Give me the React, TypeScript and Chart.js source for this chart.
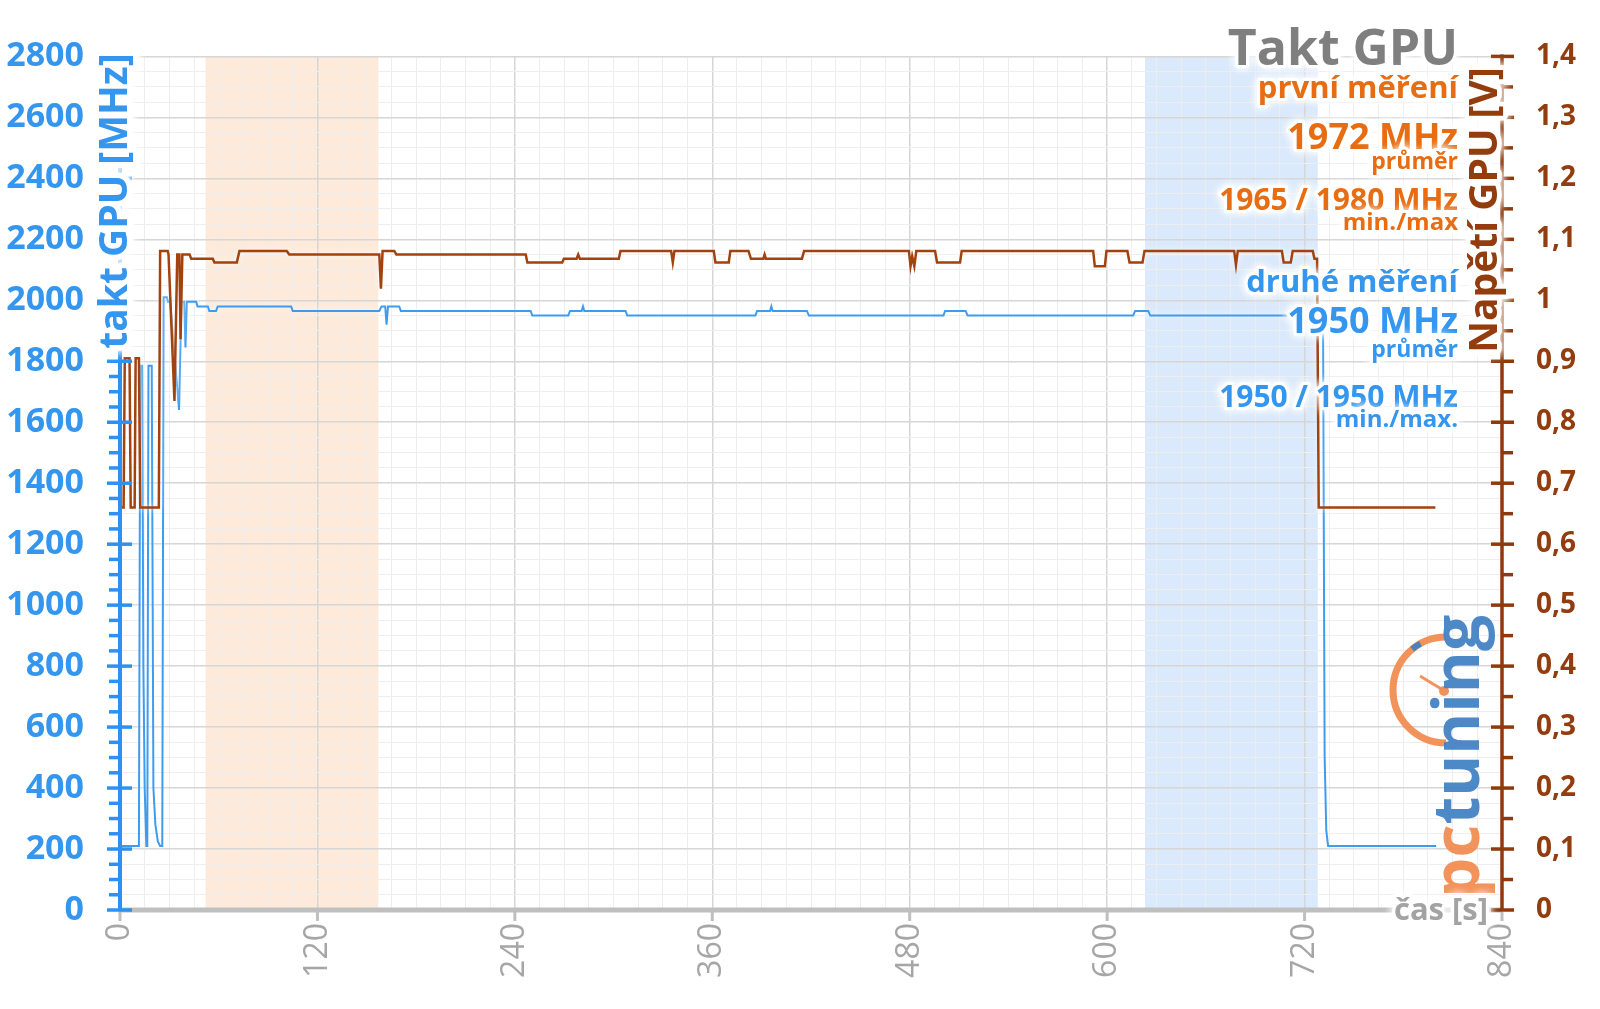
import React, { useEffect, useRef } from 'react';
import { Chart, registerables } from 'chart.js';

Chart.register(...registerables);

// ---------- data ----------
const clockTime = [
  0, 11.5, 12.3, 13.5, 14.2, 15, 16, 16.6, 17.3, 19.3, 20.3, 21.5, 23, 24.4, 25.7, 26.5, 28.5, 29.2, 30.5,
  35.9, 37.3, 39, 39.8, 40.6, 46.3, 47.1, 53.4, 54.3, 58.4, 59.4, 104, 105, 157.6, 159, 161.2, 162, 162.9,
  169.7, 170.7, 249.6, 250.6, 272.5, 273.5, 280.6, 281.4, 282.2, 307.3, 308.3, 386.2, 387.2, 395.1, 395.9,
  396.7, 417.5, 418.7, 500.5, 501.5, 514, 515.2, 615.8, 617, 625, 626.2, 731.2, 732.2, 733.2, 734.3, 800,
];
const clockMHz = [
  210, 210, 1785, 1785, 800, 400, 210, 210, 1785, 1785, 400, 280, 225, 210, 210, 2010, 2010, 1995, 1995,
  1640, 1995, 1995, 1845, 1995, 1995, 1980, 1980, 1965, 1965, 1980, 1980, 1965, 1965, 1980, 1980, 1920, 1980,
  1980, 1965, 1965, 1950, 1950, 1965, 1965, 1980, 1965, 1965, 1950, 1950, 1965, 1965, 1980,
  1965, 1965, 1950, 1950, 1965, 1965, 1950, 1950, 1965, 1965, 1950, 1950, 500, 260, 210, 210,
];

const voltTime = [
  1, 2.2, 2.9, 5.8, 6.5, 8.9, 9.5, 11.5, 12.3, 23.6, 24.4, 29, 29.5, 33.1, 34.8, 36.1, 36.8, 37.9, 42.3,
  43.3, 56.4, 57.4, 71, 72.6, 101.3, 102.9, 157.6, 158.6, 159.6, 166.7, 168, 246.6, 247.6, 268.8, 269.8,
  277.5, 278.5, 279.5, 303.2, 304.2, 335, 336, 337, 360.9, 361.9, 370, 371, 382, 383.5, 391, 391.8, 392.6,
  414.5, 415.8, 479.5, 480.5, 481.5, 482.8, 484, 495.4, 496.6, 510.6, 511.6, 591.5, 592.5, 598.6, 599.6,
  612.3, 613.6, 621.5, 622.7, 677.2, 678.3, 679.4, 706.2, 707.3, 711.6, 712.8, 725, 726, 727.6, 728.6, 799.5,
];
const voltV = [
  0.66, 0.66, 0.905, 0.905, 0.66, 0.66, 0.905, 0.905, 0.66, 0.66, 1.081, 1.081, 1.075, 0.835, 1.075, 1.075, 0.936, 1.075, 1.075,
  1.068, 1.068, 1.062, 1.062, 1.081, 1.081, 1.075, 1.075, 1.019, 1.081, 1.081, 1.075, 1.075, 1.062, 1.062, 1.068,
  1.068, 1.075, 1.068, 1.068, 1.081, 1.081, 1.062, 1.081, 1.081, 1.062, 1.062, 1.081, 1.081, 1.068, 1.068, 1.075, 1.068,
  1.068, 1.081, 1.081, 1.056, 1.072, 1.056, 1.081, 1.081, 1.062, 1.062, 1.081, 1.081, 1.056, 1.056, 1.081,
  1.081, 1.062, 1.062, 1.081, 1.081, 1.058, 1.081, 1.081, 1.062, 1.062, 1.081, 1.081, 1.068, 1.068, 0.66, 0.66,
];

const xTickLabels = [0, 120, 240, 360, 480, 600, 720, 840];
const bandStart = [52, 623];
const bandEnd = [157, 728];

const chartTitle = 'Takt GPU';
const leftAxisTitle = 'takt GPU [MHz]';
const rightAxisTitle = 'Napětí GPU [V]';
const xAxisTitle = 'čas [s]';
const firstRunTexts = ['první měření', '1972 MHz', 'průměr', '1965 / 1980 MHz', 'min./max'];
const secondRunTexts = ['druhé měření', '1950 MHz', 'průměr', '1950 / 1950 MHz', 'min./max.'];

// ---------- styles ----------
const FONT = '"Open Sans", "Noto Sans", sans-serif';
const BLUE = '#3E9CF0';
const BLUE_TXT = '#3496EE';
const BROWN = '#A2420F';
const BROWN_TXT = '#933C0E';
const ORANGE_TXT = '#E86D12';
const GREY_TXT = '#7F7F7F';
const AXIS_GREY = '#BFBFBF';
const bandColors = ['rgba(253,234,218,1)', 'rgba(218,233,251,1)'];

function glowText(
  ctx: CanvasRenderingContext2D,
  text: string,
  x: number,
  y: number,
  font: string,
  color: string,
  align: CanvasTextAlign = 'right',
  rot = 0,
  glowWidth = 6,
) {
  ctx.save();
  ctx.translate(x, y);
  if (rot) ctx.rotate(rot);
  ctx.font = font;
  ctx.textAlign = align;
  ctx.textBaseline = 'alphabetic';
  ctx.shadowColor = 'rgba(255,255,255,1)';
  ctx.shadowBlur = 10;
  ctx.strokeStyle = 'rgba(255,255,255,0.95)';
  ctx.lineWidth = glowWidth;
  ctx.lineJoin = 'round';
  ctx.strokeText(text, 0, 0);
  ctx.strokeText(text, 0, 0);
  ctx.shadowBlur = 0;
  ctx.shadowColor = 'rgba(0,0,0,0)';
  ctx.fillStyle = color;
  ctx.fillText(text, 0, 0);
  ctx.restore();
}

const decorPlugin = {
  id: 'decor',
  beforeDraw(chart: any) {
    const { ctx, chartArea, scales } = chart;
    ctx.save();
    ctx.fillStyle = '#ffffff';
    ctx.fillRect(0, 0, chart.width, chart.height);
    for (let i = 0; i < bandStart.length; i++) {
      const x0 = scales.x.getPixelForValue(bandStart[i]);
      const x1 = scales.x.getPixelForValue(bandEnd[i]);
      ctx.fillStyle = bandColors[i];
      ctx.fillRect(x0, chartArea.top, x1 - x0, chartArea.bottom - chartArea.top);
    }
    ctx.restore();
  },
  beforeDatasetsDraw(chart: any) {
    const ctx = chart.ctx;
    ctx.save();
    ctx.shadowColor = 'rgba(255,255,255,0.95)';
    ctx.shadowBlur = 6;
  },
  afterDatasetsDraw(chart: any) {
    const { ctx, chartArea, scales } = chart;
    ctx.restore();
    const { x, yF, yV } = scales;
    ctx.save();
    ctx.lineCap = 'butt';
    // x axis
    ctx.strokeStyle = AXIS_GREY;
    ctx.lineWidth = 5;
    ctx.beginPath();
    ctx.moveTo(chartArea.left - 2, chartArea.bottom);
    ctx.lineTo(chartArea.right, chartArea.bottom);
    ctx.stroke();
    ctx.lineWidth = 3;
    for (const v of xTickLabels) {
      const px = x.getPixelForValue(v);
      ctx.beginPath();
      ctx.moveTo(px, chartArea.bottom + 2);
      ctx.lineTo(px, chartArea.bottom + 11);
      ctx.stroke();
    }
    // left axis
    ctx.strokeStyle = '#2E90F0';
    ctx.lineWidth = 4;
    ctx.beginPath();
    ctx.moveTo(chartArea.left, chartArea.top - 2);
    ctx.lineTo(chartArea.left, chartArea.bottom);
    ctx.stroke();
    ctx.lineWidth = 3.5;
    for (let v = 0; v <= 2800; v += 50) {
      const py = yF.getPixelForValue(v);
      ctx.beginPath();
      if (v % 200 === 0) {
        ctx.moveTo(chartArea.left - 13, py);
        ctx.lineTo(chartArea.left + 12, py);
      } else {
        ctx.moveTo(chartArea.left - 11, py);
        ctx.lineTo(chartArea.left, py);
      }
      ctx.stroke();
    }
    // right axis
    ctx.strokeStyle = '#8E3A0C';
    ctx.lineWidth = 3.5;
    ctx.beginPath();
    ctx.moveTo(chartArea.right, chartArea.top - 2);
    ctx.lineTo(chartArea.right, chartArea.bottom);
    ctx.stroke();
    for (let i = 0; i <= 28; i++) {
      const py = yV.getPixelForValue(i * 0.05);
      ctx.beginPath();
      if (i % 2 === 0) {
        ctx.moveTo(chartArea.right - 11, py);
        ctx.lineTo(chartArea.right + 12, py);
      } else {
        ctx.moveTo(chartArea.right, py);
        ctx.lineTo(chartArea.right + 11, py);
      }
      ctx.stroke();
    }
    ctx.restore();
  },
  afterDraw(chart: any) {
    const { ctx, chartArea } = chart;
    // logo
    ctx.save();
    ctx.globalAlpha = 0.92;
    ctx.strokeStyle = '#F28A4E';
    ctx.lineWidth = 7;
    ctx.beginPath();
    ctx.arc(1446, 690, 53, -Math.PI / 2, Math.PI / 2, true);
    ctx.stroke();
    ctx.strokeStyle = '#3F7FC2';
    ctx.lineWidth = 6;
    ctx.beginPath();
    ctx.arc(1446, 690, 53, -Math.PI * 0.72, -Math.PI * 0.66, false);
    ctx.stroke();
    ctx.strokeStyle = '#F28A4E';
    ctx.lineWidth = 3;
    ctx.beginPath();
    ctx.moveTo(1420, 676);
    ctx.lineTo(1443, 690);
    ctx.stroke();
    ctx.fillStyle = '#F28A4E';
    ctx.beginPath();
    ctx.arc(1444, 691, 5, 0, Math.PI * 2);
    ctx.fill();
    ctx.translate(1479, 898);
    ctx.rotate(-Math.PI / 2);
    ctx.font = `bold 64px ${FONT}`;
    ctx.textBaseline = 'alphabetic';
    ctx.textAlign = 'left';
    ctx.fillStyle = '#F28A4E';
    ctx.fillText('pc', 0, 0);
    const w = ctx.measureText('pc').width;
    ctx.fillStyle = '#3F7FC2';
    ctx.fillText('tuning', w, 0);
    ctx.restore();

    // axis titles
    glowText(ctx, leftAxisTitle, 127, 201, `bold 39px ${FONT}`, BLUE_TXT, 'center', -Math.PI / 2, 11);
    glowText(ctx, rightAxisTitle, 1497, 210, `bold 39px ${FONT}`, BROWN_TXT, 'center', -Math.PI / 2, 9);
    glowText(ctx, xAxisTitle, chartArea.right - 14, 920, `bold 31px ${FONT}`, '#A3A3A3', 'right');

    // summary block
    const rx = 1458;
    glowText(ctx, chartTitle, rx, 65, `bold 50px ${FONT}`, GREY_TXT);
    const ys = [98, 149, 169, 210, 230];
    const sizes = [31, 36, 23, 30, 24];
    for (let i = 0; i < 5; i++) {
      glowText(ctx, firstRunTexts[i], rx, ys[i], `bold ${sizes[i]}px ${FONT}`, ORANGE_TXT);
    }
    const ys2 = [292, 333, 357, 407, 427];
    for (let i = 0; i < 5; i++) {
      glowText(ctx, secondRunTexts[i], rx, ys2[i], `bold ${sizes[i]}px ${FONT}`, BLUE_TXT);
    }
  },
};

export default function App() {
  const canvasRef = useRef<HTMLCanvasElement | null>(null);

  useEffect(() => {
    const canvas = canvasRef.current;
    if (!canvas) return;
    const xLabelSet = new Set(xTickLabels);
    const chart = new Chart(canvas, {
      type: 'line',
      data: {
        datasets: [
          {
            label: 'Napětí GPU',
            data: voltTime.map((t, i) => ({ x: t, y: voltV[i] })),
            yAxisID: 'yV',
            borderColor: BROWN,
            borderWidth: 2.5,
            pointRadius: 0,
            tension: 0,
          },
          {
            label: 'takt GPU',
            data: clockTime.map((t, i) => ({ x: t, y: clockMHz[i] })),
            yAxisID: 'yF',
            borderColor: BLUE,
            borderWidth: 2,
            pointRadius: 0,
            tension: 0,
          },
        ],
      },
      options: {
        animation: false,
        responsive: false,
        maintainAspectRatio: false,
        layout: { padding: { top: 55, left: 0, right: 0, bottom: 0 } },
        plugins: { legend: { display: false }, tooltip: { enabled: false } },
        scales: {
          x: {
            type: 'linear',
            min: 0,
            max: 840,
            border: { display: false },
            grid: {
              drawTicks: false,
              color: (c: any) => (c.tick && c.tick.value % 120 === 0 ? '#D6D6D6' : '#EDEDED'),
              lineWidth: (c: any) => (c.tick && c.tick.value % 120 === 0 ? 1.5 : 1),
            },
            ticks: {
              stepSize: 15,
              autoSkip: false,
              maxRotation: 90,
              minRotation: 90,
              padding: 13,
              color: '#A6A6A6',
              font: { family: FONT, size: 32, weight: 'normal' },
              callback: (v: any) => (xLabelSet.has(Number(v)) ? String(v) : ''),
            },
            afterFit: (s: any) => {
              s.height = 99;
            },
          },
          yF: {
            type: 'linear',
            position: 'left',
            min: 0,
            max: 2800,
            border: { display: false },
            grid: {
              drawTicks: false,
              color: (c: any) => (c.tick && c.tick.value % 200 === 0 ? '#D6D6D6' : '#EEEEEE'),
              lineWidth: (c: any) => (c.tick && c.tick.value % 200 === 0 ? 1.5 : 1),
            },
            ticks: {
              stepSize: 50,
              autoSkip: false,
              padding: 36,
              color: BLUE_TXT,
              font: { family: FONT, size: 34, weight: 'bold' },
              callback: (v: any) => (Number(v) % 200 === 0 ? String(v) : ''),
            },
            afterFit: (s: any) => {
              s.width = 120;
            },
          },
          yV: {
            type: 'linear',
            position: 'right',
            min: 0,
            max: 1.4,
            border: { display: false },
            grid: { drawOnChartArea: false, drawTicks: false },
            ticks: {
              stepSize: 0.05,
              autoSkip: false,
              padding: 34,
              color: BROWN_TXT,
              font: { family: FONT, size: 28, weight: 'bold' },
              callback: (v: any) => {
                const n = Number(v) * 10;
                if (Math.abs(n - Math.round(n)) > 1e-6) return '';
                return String(Math.round(n) / 10).replace('.', ',');
              },
            },
            afterFit: (s: any) => {
              s.width = 98;
            },
          },
        },
      },
      plugins: [decorPlugin],
    } as any);
    return () => chart.destroy();
  }, []);

  return (
    <div style={{ position: 'fixed', left: 0, top: 0, width: 1600, height: 1009, background: '#fff' }}>
      <canvas ref={canvasRef} width={1600} height={1009} style={{ display: 'block', width: 1600, height: 1009 }} />
    </div>
  );
}
